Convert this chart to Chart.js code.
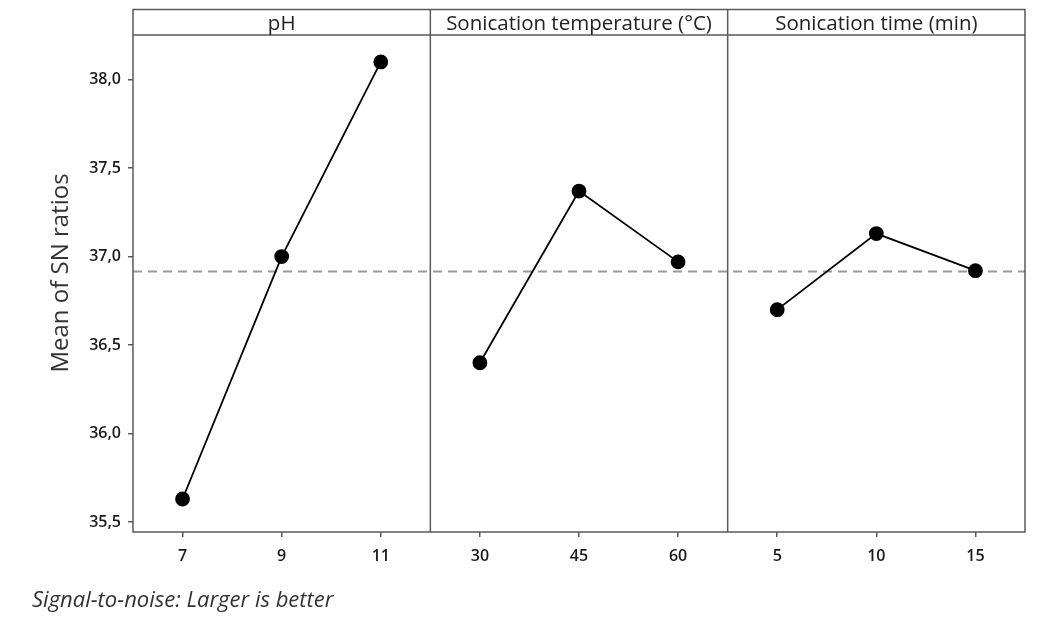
<!DOCTYPE html>
<html>
<head>
<meta charset="utf-8">
<script src="https://cdn.jsdelivr.net/npm/chart.js@4"></script>
<style>
  body { margin: 0; background: #ffffff; }
  canvas { display: block; }
</style>
</head>
<body>
<canvas id="snChart" width="1054" height="620"></canvas>
<script>
// factors (panel headers) and their levels
const factors = ["pH", "Sonication temperature (°C)", "Sonication time (min)"];
const phLevels = ["7", "9", "11"];
const tempLevels = ["30", "45", "60"];
const timeLevels = ["5", "10", "15"];

// mean of SN ratios per level
const phMeans = [35.63, 37.00, 38.10];
const tempMeans = [36.40, 37.37, 36.97];
const timeMeans = [36.70, 37.13, 36.92];
const overallMean = 36.915;

const yTicks = [35.5, 36.0, 36.5, 37.0, 37.5, 38.0];

const levelSets = [phLevels, tempLevels, timeLevels];
const meanSets = [phMeans, tempMeans, timeMeans];
const xLabels = levelSets.flat();
const xTickPos = xLabels.map((l, i) => i + 0.5);

const FONT = "'Open Sans', 'Noto Sans', sans-serif";
const frameColor = "#5a5a5a";

let datasets = meanSets.map((vals, p) => ({
    data: vals.map((v, i) => ({ x: p * 3 + i + 0.5, y: v })),
    borderColor: "#000000",
    backgroundColor: "#000000",
    borderWidth: 1.8,
    pointRadius: 6.5,
    pointHoverRadius: 6.5,
    tension: 0,
    order: 0
}));

datasets.push({
    data: [{ x: 0, y: overallMean }, { x: 9, y: overallMean }],
    borderColor: "#9a9a9a",
    borderWidth: 2,
    borderDash: [9, 6],
    pointRadius: 0,
    order: 5
});

// frame, panel headers, dividers, y title and footnote
const panelPlugin = {
    id: "panels",
    afterDraw(chart) {
        const ctx = chart.ctx;
        const area = chart.chartArea;
        const xs = chart.scales.x;
        const headerTop = 9.5;
        ctx.save();
        ctx.strokeStyle = frameColor;
        ctx.lineWidth = 1.5;
        ctx.strokeRect(area.left, headerTop, area.right - area.left, area.bottom - headerTop);
        ctx.beginPath();
        ctx.moveTo(area.left, area.top);
        ctx.lineTo(area.right, area.top);
        [3, 6].forEach(v => {
            const px = xs.getPixelForValue(v);
            ctx.moveTo(px, headerTop);
            ctx.lineTo(px, area.bottom);
        });
        ctx.stroke();

        ctx.fillStyle = "#222222";
        ctx.font = "20.5px " + FONT;
        ctx.textAlign = "center";
        ctx.textBaseline = "middle";
        factors.forEach((f, p) => {
            const cx = (xs.getPixelForValue(p * 3) + xs.getPixelForValue(p * 3 + 3)) / 2;
            ctx.fillText(f, cx, (headerTop + area.top) / 2 + 1.5);
        });

        // y axis title
        ctx.save();
        ctx.translate(61, 273);
        ctx.rotate(-Math.PI / 2);
        ctx.fillStyle = "#333333";
        ctx.font = "24px " + FONT;
        ctx.fillText("Mean of SN ratios", 0, 0);
        ctx.restore();

        ctx.font = "italic 22px " + FONT;
        ctx.textAlign = "left";
        ctx.textBaseline = "alphabetic";
        ctx.fillStyle = "#333333";
        ctx.fillText("Signal-to-noise: Larger is better", 32, 607);
        ctx.restore();
    }
};

new Chart(document.getElementById("snChart").getContext("2d"), {
    type: "line",
    data: { datasets: datasets },
    options: {
        responsive: false,
        animation: false,
        devicePixelRatio: 1,
        layout: { padding: { top: 35, right: 29, left: 0, bottom: 0 } },
        plugins: {
            legend: { display: false },
            tooltip: { enabled: false }
        },
        scales: {
            x: {
                type: "linear",
                min: 0,
                max: 9,
                afterBuildTicks: axis => { axis.ticks = xTickPos.map(v => ({ value: v })); },
                afterFit: axis => { axis.height = 88; },
                ticks: {
                    autoSkip: false,
                    maxRotation: 0,
                    padding: 10,
                    color: "#1a1a1a",
                    font: { family: FONT, size: 16, weight: "600" },
                    callback: (v, i) => xLabels[i]
                },
                grid: { drawOnChartArea: false, tickLength: 5, color: frameColor, lineWidth: 1.5 },
                border: { display: false }
            },
            y: {
                min: 35.4435,
                max: 38.252,
                afterBuildTicks: axis => { axis.ticks = yTicks.map(v => ({ value: v })); },
                afterFit: axis => { axis.width = 133; },
                ticks: {
                    padding: 7,
                    color: "#1a1a1a",
                    font: { family: FONT, size: 16, weight: "600" },
                    callback: v => v.toFixed(1).replace(".", ",")
                },
                grid: { drawOnChartArea: false, tickLength: 5, color: frameColor, lineWidth: 1.5 },
                border: { display: false }
            }
        }
    },
    plugins: [panelPlugin]
});
</script>
</body>
</html>
